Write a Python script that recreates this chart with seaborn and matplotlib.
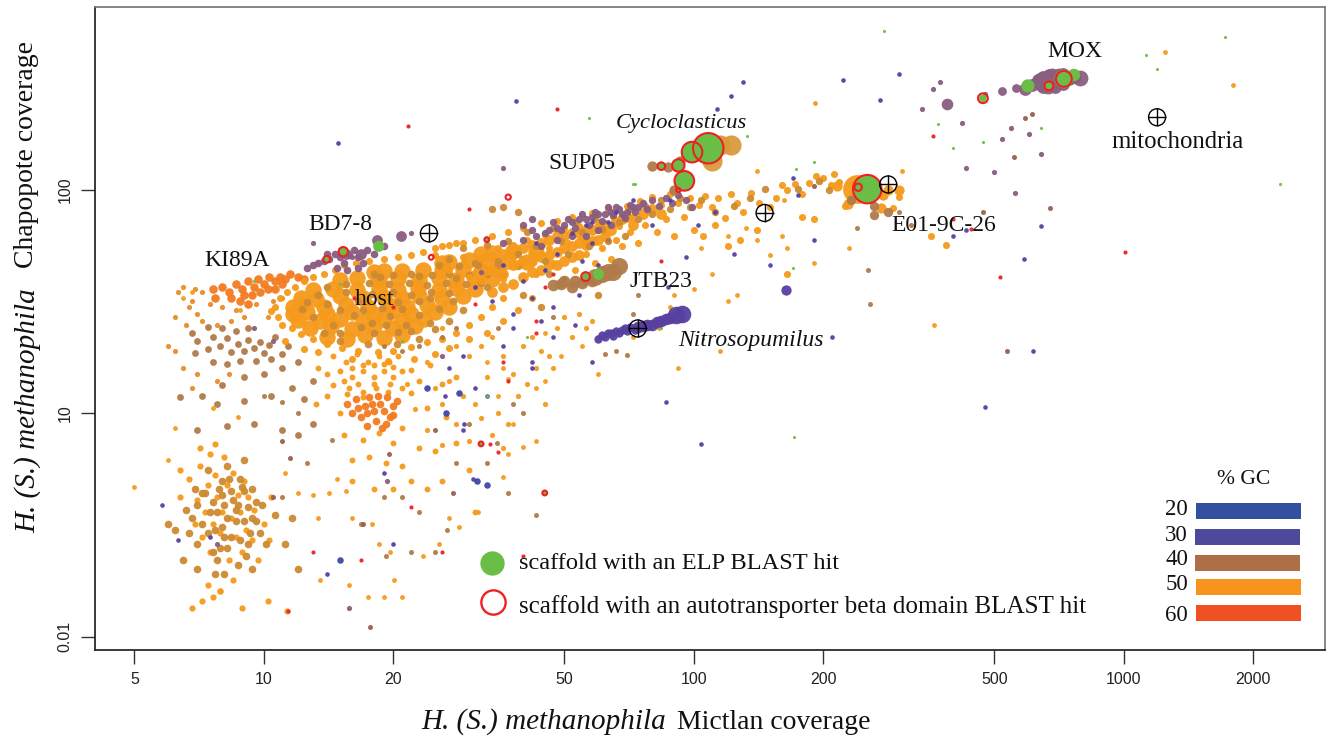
import pandas as pd
import matplotlib
matplotlib.use("Agg")
import matplotlib.pyplot as plt
from matplotlib.patches import Rectangle
import seaborn as sns

# coverage pairs (Mictlan, Chapopote), by region
host_orange = [(14,22),(15.6,21.5),(17.2,22.4),(19,21.8),(21,22.5),(12.8,24),(14.3,24.6),(16,23.8),(18,24.5),(20,24),(22.5,24.6),
    (12,26.2),(13.5,25.8),(15,26.5),(17,26),(19,26.6),(21,26),(23.6,26.4),(11.7,28),(12.6,28.4),(14,27.8),(16,28.5),(18,28),(20,28.6),(22,28),(25,28.4),
    (11.7,30),(12.3,30.5),(13.8,30),(15.5,30.6),(17.5,30),(19.5,30.6),(21.5,30),(24,30.5),(27,30),
    (12.2,33),(13.2,32.6),(15,33.4),(17,32.8),(19,33.3),(21,32.7),(23,33.4),(26,33),(29,33.4),
    (13,35.6),(14.5,36.2),(16.5,35.8),(18.5,36.4),(20.5,35.7),(22.8,36.3),(25.5,35.8),(28,36.4),(31,36),
    (15,39.5),(16.5,40.2),(18.5,39.6),(20.5,40.3),(23,39.7),(25.5,40.3),(28,39.6),(31,40.3),(34,39.8),
    (18,43),(19,43.6),(21,43.2),(23.5,44),(26,43.7),(29,44.4),(32,43.6),(35,44.2),(26,47),(27,47.5),(30,48.4),(33,47.6),(37,48.2),(41,47.6),(32,52),(34,52.4),(38,53.2),(43,52.6)]
host_tan = [(13,27),(14.5,25),(16.2,27.5),(17.8,25.5),(19.6,27.3),(21.4,25),(23,27.5),(15,23),(18,22.8),(20.5,23.2),(12.3,29.3),(14,31),(16.6,31.8),(18.8,29.6),(20.5,31.5),(23,31.7),(25.5,29.4),
    (13.4,34),(15.5,34.8),(17.8,34.2),(20,34.9),(22,34),(24.5,35),(27,34.5),(15.5,38),(17.6,38.4),(19.5,37.8),(21.8,38.4),(24,37.6),(26.5,38.3),(29.5,38),(32,38.4),
    (18,42),(20,41.8),(22,42.3),(24.6,41.7),(27,42.2),(30,41.6),(33,42.3),(36,41.8),(25.5,46),(28.5,45.8),(31.5,46),(35,46.2),(39,45.6),(15,21),(17.5,20.5),(20.4,20.4),(23,21.6),(25,23.8),(27,26),(29,29),
    (13.8,23),(16.8,24.4),(19.2,25),(22,23.4),(24.4,25.4),(12.6,31.6),(15,29),(17,29),(21,29.4),(24.4,33),(27.6,32),(14,37),(18.6,40.8),(23,41.2),(28,40.4)]
host_fringe = [(10.8,27),(10.6,30),(10.9,33),(11.3,35),(11.8,37),(12.4,39),(13,41),(13.8,42),(14.6,44),(15.4,46),(16.4,47),(17.6,48),(19,49),(20.5,50),(22,51),(23.5,53),(25,55),(27,57),(29,58),
    (11,25),(11.6,24),(12.2,22.6),(13,21.5),(14,20.4),(15.2,19.6),(16.6,19),(18.4,18.8),(20,19),(22,19.8),(24,20.8),(26,21.5),(28,23),(30,25),(32,27),(34,30),(36,33),
    (10.4,28.6),(11.2,21),(12.4,19.5),(13.4,18.8),(16,17.6),(19.4,17.2),(22.4,17.6),(25,18.4),(27,19.6),(30,21.5),(33,23),(36,26),(39,29),(42,33)]
band_fill = [(34,35),(36,37),(38,38),(40,41),(42,43),(44,44),(46,46),(48,46),(50,48),(52,50),(54,51),(56,57),(58,59),(60,60),(62,62),(34,50),(36,52),(38,54),(40,55),(42,57),(44,58),(46,60),(48,62),(50,62),(52,64),(54,64),(56,66),(58,66),(60,68),(62,70),(64,66),(66,72),(68,74),(70,76),(72,70),(76,78),(80,82),(84,78),
    (32,40),(34,44),(36,42),(38,46),(40,48),(42,48),(44,50),(46,51),(48,53),(50,55),(52,56),(54,58),(56,59)]
band_orange = [(25,51),(26,56),(27,44),(28,58),(29,50),(30,41),(31,60),(32,50),(33,43),(34,62),(35,55),(36,40),(37,65),(38,57),(39,47),(40,68),(41,60),(42,52),(43,42),(44,71),(45,63),(46,55),(47,47),(48,73),(49,38),
    (50,67),(51,58),(52,76),(53,44),(54,69),(55,61),(56,52),(57,40),(58,79),(59,47),(60,72),(61,55),(62,65),(63,83),(64,49),(65,76),(66,60),(67,69),(68,56),(70,85),(71,65),(72,76),(74,58),(75,89),(77,70),(78,81),(80,93),(82,65),(84,86),(86,74),(88,96),(90,62),(92,88),(95,76),(98,92),(100,66),
    (103,86),(106,94),(110,84),(114,92),(118,75),(122,96),(126,88),(130,80),(136,97),(142,88),(150,84),(155,92),(160,105),(165,100),(172,106),(178,96),(185,108),(192,116),(200,113),(208,105),(212,118),(218,109),
    (105,62),(112,70),(120,56),(128,60),(140,66),(165,42),(178,76),(190,74),(224,85),(232,92),(290,83),(300,93),(355,62),(385,57)]
band_tan = [(27,49),(29,55),(31,47),(33,57),(35,48),(37,59),(39,52),(41,65),(43,56),(45,48),(47,68),(49,59),(51,52),(53,72),(55,65),(57,56),(59,75),(61,67),(63,59),(65,79),(67,72),(69,62),(71,82),(74,74),(77,85),(80,78),(84,90),(88,82),(93,92),(98,84),(104,90),(112,80),(124,85),(135,92),(146,101),(175,101),(195,110),(206,100),
    (39,80),(36,84),(34,82),(46,42),(52,38),(60,34),(33,37),(40,34),(44,30)]
band_purple = [(45,64),(47,72),(49,66),(51,74),(53,68),(55,78),(57,70),(59,80),(61,73),(63,84),(65,77),(67,82),(69,75),(71,86),(73,80),(76,88),(78,82),(80,90),(83,85),(86,92),(89,88),(92,95),(96,90),(99,84),(44,56),(48,60),(52,62),(56,62),(60,66),(64,70),(36,58),(40,60),(42,66),
    (48,68),(50,70),(52,72),(54,74),(56,74),(58,76),(60,78),(62,78),(64,80),(66,84),(68,78),(70,80),(72,84),(74,84),(40,70),(43,62),(46,66),(42,74)]
band_indigo = [(31,37),(34,32),(36,46),(38,28),(40,39),(42,33),(43,58),(44,26),(45,44),(47,30),(48,52),(50,40),(52,64),(54,34),(55,48),(56,70),(58,58),(60,46),(63,72),(66,80),(72,90),(80,70),(88,90),(102,70),(112,80),(29,18),(31,13),(33,12),(36,20),(38,24),(27,16),(42,16),(47,22),(53,25),(58,17)]
fan_orange = [(26,24),(28,20),(30,18),(32,20),(34,22),(36,18),(38,15),(40,20),(42,22),(44,19),(46,18),(48,24),(50,27),(52,22),(54,28),(56,24),(58,26),(60,22),(27,14),(29,12),(31,11),(33,14.5),(35,10),(37,9),(39,12),(41,13.5),(43,16),(45,11),(47,16),(24,17),(25,13),(26,11),(28,9),(30,7.5),(32,9.5),(34,8),(36,7),(22.5,10.5),(21.5,13.5),(24,8.4),(26,7.2)]
ki89a = [(7.6,36),(8,37),(8.3,35),(8.6,38),(8.9,36),(9.2,39),(9.5,37),(9.7,40),(10,38),(10.3,41),(10.6,39),(10.9,41),(11.2,40),(11.5,42),(12,41),(12.4,40),(9,34),(9.4,34),(9.8,35),(10.2,36),(10.6,36),(11,38),(8.4,33),(8.8,32),(9.2,31),(7.7,33)]
ki89a_fringe = [(7.2,35),(6.9,36),(6.5,37),(6.3,35),(6.8,32),(6.7,30),(7,28),(7.5,31),(8,30),(8.6,29),(9.6,31),(10.5,32),(11,33),(6.2,27),(6.6,25),(7.2,26),(7.8,25),(8.4,26),(9,27),(10.2,27),(6,20),(6.2,19),(6.5,16),(7,15),(7.8,14),(8.3,15),(6.8,13)]
tan_left = [(7,21),(7.4,19.5),(7.6,22),(7.9,20),(8.2,21.8),(8.4,18.8),(8.7,20.4),(9,19),(9.2,21.4),(9.5,19.6),(9.8,20.8),(10,18.6),(10.3,20.2),(10.6,22),(8,24),(8.6,23.4),(9.2,24),(7.4,24.4),(6.8,23),(6.9,18.6),(7.6,17),(8.2,16.6),(8.8,17.2),(9.6,17.2),(10.4,17.6),(11,18.4),(11.4,20),(11,16),(10,15),(9,14.6),(8,13.4),(7.2,12),(6.4,11.8),(7.8,11),(9,11.4),(10.4,12),(11.6,13),(12.4,11.6),(13,14),(12,17),(13,9),(12,8),(11,8.4),(9.5,9),(8.2,8.8),(7,8.4)]
column_orange = [(14.5,18),(15.5,17),(16.5,18.5),(17.5,17),(18.5,18),(19.5,17),(20.5,18),(15,15.5),(16,14.5),(17,15.5),(18,14.5),(19,15.5),(20,14.5),(21,15.5),(15.8,13),(17,12.5),(18.2,13),(19.4,12.5),(14,12),(13.2,11),(15,10),(22,12.4),(23,14),(24.4,16.4),(26,13.6),(28,14.6),(24,10.6),(26.5,9.6),(15.4,8),(17,7.6),(18.5,8.2),(20,7.4),(21,8.6),(16,6.2),(17.6,6.4),(19.2,6),(21,5.8),(23,7),(25,6.8),(16,5),(18,4.6),(20,4.6),(22,5),(24,4.6),(26,5),(28,7.4),(30,5.6),(31,3.6),
    (16,16),(17,16.5),(18,16.4),(19,16.6),(20,16.2),(15.4,14),(16.6,13.6),(18,13.6),(19.6,13.6),(21,13),(15.6,12.2),(17,11.8),(14.5,13.4),(14,15),(13.4,16),(22,15.6)]
column_red = [(15.6,11),(16,10),(16.4,11.6),(16.8,9.6),(17.2,10.8),(17.6,11.8),(18,10.2),(18.2,9.2),(18.6,11),(19,10.2),(19.3,11.8),(19.6,9.6),(20,10.8),(20.4,11.4),(17.4,8.8),(18.8,8.6),(16.6,10.6),(17.4,10),(17.8,11),(18.4,12),(19.2,9),(20,9.8)]
bottom_orange = [(6.4,4.2),(6.7,5.1),(6.9,3.2),(7,4.1),(7.1,5.8),(7.2,2.8),(7.3,3.6),(7.4,4.8),(7.5,2.4),(7.6,3.2),(7.7,5.3),(7.8,4.2),(7.9,2.9),(8,3.6),(8.1,6.4),(8.2,4.8),(8.3,2.2),(8.4,3.4),(8.5,5.4),(8.6,2.8),(8.7,4.3),(8.8,3.6),(8.9,2.4),(9,5),(9.1,3),(9.2,4.2),(9.4,2.7),(9.5,3.7),(9.7,2.2),(10,3.2),(10.3,2.7),(10.4,4.2),(7.4,1.7),(7.9,1.6),(8.5,1.8),(6.8,1.35),(7.2,1.45),(7.6,1.5),(7.9,1.6),(8.9,1.35),(10.2,1.45),(11.3,1.3),(7.1,7),(7.7,7.3),(7.5,6.6),(6.4,5.6)]
bottom_gold = [(6.6,3.7),(6.9,4.6),(7.2,3.2),(7.3,4.4),(7.5,3.6),(7.6,4),(7.7,3),(7.8,3.6),(7.85,4.6),(7.9,2.5),(8,3.1),(8,4.3),(8.1,2.8),(8.1,3.9),(8.2,3.4),(8.3,5.1),(8.4,2.8),(8.5,4.1),(8.6,3.3),(8.7,3.9),(8.8,2.7),(8.9,4.7),(9,3.3),(9.1,2.3),(9.2,3.8),(9.3,2.9),(9.4,4.6),(9.6,3.3),(9.9,3.9),(10.1,2.6),(7,2.6),(6.5,2.2),(6.2,3),(6,3.2),(7.4,5.6),(8.2,5.8),(9,6.2),
    (6.8,3.4),(7,3.9),(7.2,4.4),(7.4,2.9),(7.6,2.4),(7.8,2.2),(8,5),(8.2,2.5),(8.4,4.5),(8.6,3.7),(8.8,5.1),(9,4.5),(9.2,2.6),(9.4,3.4),(9.6,4),(9.8,2.9),(8.1,1.9),(8.7,2.1),(7.7,1.9),(9.4,2),(6.7,2.9),(7,2),(10.6,3.5),(11.2,2.6),(11.6,3.4),(12,2)]
scatter_orange = [(5,4.7),(6,6.2),(6.2,8.6),(7.6,10.6),(8.7,9.6),(11.2,5.4),(12,4.4),(13,4.3),(14.2,4.4),(14.8,5.1),(15.5,4.5),(13.4,3.4),(16,3.4),(17.8,3.2),(18.5,2.6),(19.7,2.4),(15.8,1.7),(17.5,1.5),(19,1.5),(13.5,1.8),(20.1,1.8),(21,1.5),(23.4,2.3),(25.6,2.6),(27,3.4),(28.4,3.1),(31.5,3.6),(36,5.2),(37,6.6),(38,9),(40,7.1),(43,13),(45,14),(49,18),(55,20),(43,7.5),(35,12),(37,14.2),(33,17),(36,16),(45,23),(60,15),(72,22),(83,24),(88,30),(92,16),(115,19),(120,32),(126,34),(140,60),(160,62),(190,47),(230,55),(100,36),(110,42)]
scatter_tan = [(10,12),(11,11.3),(12,10),(14.4,7.6),(12.6,6),(11,4.2),(16.8,3.2),(19,4.2),(21,4.2),(23,3.6),(25,2.4),(19.2,2.3),(22,2.4),(26.6,3),(28,6),(33,6),(34.8,7.4),(38,11),(40,10),(47,27),(35,24),(30,9),(37,4.4),(43,3.5),(62,18.5),(66,19),(74,34),(254,44),(257,31),(240,68),(300,80),(320,70),(19,20),(21,19),(23,20),(26,22),(28,24),(63,60),(72,28),(70,18.3)]
scatter_indigo = [(38.5,251),(14.9,162),(130,305),(113,230),(122,263),(86,11.3),(104,7.3),(209,22),(475,10.7),(614,19),(585,49),(96,50),(124,52),(87,37),(150,46),(175,95),(170,113),(190,60),(222,311),(271,253),(300,330),(400,62),(430,66),(640,69),(26.4,12),(29.2,9),(30.6,5.1),(29,8.4),(14,1.9),(19,5.4),(20,2.6),(5.8,3.9),(6.3,2.7),(7.5,2.8),(58,72),(42,17)]
scatter_blue = [(24,13),(26.5,10),(31.3,5),(33,4.8),(15,2.2),(28.5,12.4)]
scatter_purple = [(373,305),(340,230),(558,97),(420,200),(475,270),(520,170),(545,190),(600,178),(640,145),(360,285),(500,120),(430,125),(36,125),(13,58),(32,43),(26,18),(16,50),(22,64),(10.5,21),(9.5,24),(15.8,1.35),(19.3,5),(7.8,2.6)]
scatter_brown = [(535,19),(17.7,1.1),(590,210),(555,140),(673,83),(610,220),(470,80),(190,104),(11.5,6.3),(19.5,6.6),(10.5,4.2),(17,3.2),(11,7.5),(25,8.4),(27.6,4.4)]
scatter_red = [(21.6,194),(30,82),(48,230),(515,41),(400,74),(360,175),(1005,53),(33.5,7.3),(26,2.4),(40,2.3),(16.2,33),(20,30),(31,31),(43,23),(45,37),(11.4,1.3),(13,2.4),(16.8,2.2),(22,3.8),(37,14),(43,26),(84,48),(35,6.7),(47,42),(36,17),(58,40),(440,67)]
scatter_green = [(277,516),(1717,485),(1125,403),(1194,349),(2305,106),(171,7.8),(170,45),(640,190),(370,197),(400,155),(470,165),(190,133),(173,124),(57,210),(84,24),(9.5,39),(15,38),(21,21),(41,22),(33,12),(72,107),(133,175),(73,107),(105,21.5)]
scatter_hot = [(1245,416),(1793,296),(191,245),(361,25),(305,122),(162,90),(140,122),(6.8,35),(6.5,33),(8.8,29),(13.4,47),(150,51),(120,62),(165,55),(132,68),(90,34),(104,55)]

jtb23_small = [(47,37.5),(49,38),(50,39),(52,37),(53,39),(55,38.5),(56,40),(58,39)]
jtb23_large = [(59,41),(61,42),(63,43),(65,43),(67,45.5)]
nitro_small = [(60,21.5),(61,22.5),(62,22),(63,22.8),(64,23),(65,22.3),(66,23.4),(67,22.9),(68,23.6),(69,24),(70,23.5),(71,24.4),(72,24.1),(73,23.6)]
nitro_mid = [(74,24.3),(76,24.6),(78,25),(80,24.8),(82,25.6),(84,25.8),(86,26.4),(88,26.8)]
nitro_large = [(91,27.5),(94,27.8)]
bd78 = [(12.6,45),(13,46),(13.4,47),(13.8,48),(14.2,49),(14.6,52),(15,50),(15.4,47),(15.8,51),(16.2,54),(16.6,50),(17,47),(14,52),(14.8,45),(15.6,44),(16.6,45),(18,52),(19,56),(17.4,54)]
bd78_large = [(15.5,52),(18.3,60),(20.8,62),(16.8,52)]
mox_small = [(520,278),(560,288),(610,300)]
mox = [(630,310),(650,320),(670,328),(690,322),(660,305),(700,306),(720,298),(690,290),(640,295),(745,315),(770,320),(650,290),(610,296),(590,285),(680,298),(720,330)]
mox_large = [(790,318),(640,312),(680,325),(705,325),(665,292),(660,310),(700,312)]
cyclo_tan = [(115,159),(122,160),(110,135)]
cyclo_side = [(87,127),(93,135),(80,128),(90,100)]
big_orange = [(240,101)]
e01_side = [(283,100),(300,100),(275,95),(215,104),(228,87),(272,83)]
e01_tan = [(262,85),(283,80),(232,90),(262,77)]
landmark_purple = [(387,243)]
landmark_indigo = [(164,35.6)]

# scaffolds with a green ELP hit and/or a red autotransporter ring
elp_x = [108, 99, 92, 95, 84, 253, 725, 765, 598, 669, 470, 15.3, 14, 18.5, 56, 60, 45, 32, 33]
elp_y = [154, 148, 129, 110, 128, 101, 315, 328, 293, 293, 258, 53, 49, 56, 41, 42, 4.4, 7.3, 60]
elp_s = [470, 210, 75, 190, 22, 400, 180, 80, 90, 40, 30, 45, 22, 65, 40, 65, 9, 9, 8]
ring_x = [108, 99, 92, 95, 84, 253, 241, 725, 669, 470, 15.3, 14, 56, 45, 32, 24.5, 92, 33, 37]
ring_y = [154, 148, 129, 110, 128, 101, 103, 315, 293, 258, 53, 49, 41, 4.4, 7.3, 50, 100, 60, 93]
ring_s = [480, 220, 80, 200, 30, 420, 28, 130, 40, 50, 45, 24, 40, 12, 12, 12, 10, 12, 14]
marker_x = [24.2, 146, 283, 74, 1194]
marker_y = [64, 79, 106, 24, 212]

x_ticks = [5, 10, 20, 50, 100, 200, 500, 1000, 2000]
y_ticks = [1, 10, 100]
y_tick_labels = ["0.01", "10", "100"]
gc_labels = ["20", "30", "40", "50", "60"]
gc_colors = ["#3350A0", "#4D4A9C", "#AD6F45", "#F7941E", "#F15025"]

ORANGE = "#F59A1B"
GOLD = "#CC8A32"
TAN = "#B07A4A"
PURPLE = "#8A5C80"
INDIGO = "#5740A0"
BLUE = "#3D47A5"
HOT = "#F47A20"
RED = "#EE2024"
GREEN = "#6ABD45"

W, H = 1327, 736
sns.set_theme(style="white")
plt.rcParams["font.family"] = ["Liberation Serif", "DejaVu Serif"]
fig = plt.figure(figsize=(W / 100, H / 100), dpi=100)
ax = fig.add_axes([95 / W, 1 - 650 / H, 1230 / W, 643 / H])

groups = [
    (bottom_orange, ORANGE, 20), (bottom_gold, GOLD, 30),
    (tan_left, TAN, 24), (ki89a_fringe, "#E58E2A", 14),
    (ki89a, HOT, 38), (column_orange, ORANGE, 18), (column_red, HOT, 30),
    (fan_orange, ORANGE, 14),
    (host_fringe, ORANGE, 26), (host_orange, ORANGE, 140), (host_tan, GOLD, 30),
    (band_fill, ORANGE, 60), (band_orange, ORANGE, 26), (band_tan, GOLD, 28), (band_purple, PURPLE, 28),
    (band_indigo, INDIGO, 11),
    (scatter_orange, ORANGE, 12), (scatter_tan, TAN, 13), (scatter_indigo, INDIGO, 11),
    (scatter_blue, BLUE, 22), (scatter_purple, PURPLE, 14), (scatter_brown, "#99604F", 13),
    (scatter_red, RED, 9), (scatter_green, GREEN, 5), (scatter_hot, ORANGE, 12),
    (jtb23_small, TAN, 70), (jtb23_large, TAN, 150),
    (nitro_small, INDIGO, 36), (nitro_mid, INDIGO, 70), (nitro_large, INDIGO, 160),
    (bd78, PURPLE, 30), (bd78_large, PURPLE, 60),
    (mox_small, PURPLE, 40), (mox, PURPLE, 85), (mox_large, "#8A5F7D", 130),
    (cyclo_tan, "#D99A3C", 210), (cyclo_side, TAN, 55),
    (big_orange, ORANGE, 430), (e01_side, ORANGE, 55), (e01_tan, TAN, 45),
    (landmark_purple, PURPLE, 70), (landmark_indigo, INDIGO, 55),
]
for pairs, color, size in groups:
    df = pd.DataFrame(pairs, columns=["mictlan", "chapopote"])
    sns.scatterplot(data=df, x="mictlan", y="chapopote", color=color, s=size, linewidth=0, alpha=0.95, ax=ax, zorder=2)

sns.scatterplot(x=elp_x, y=elp_y, color=GREEN, s=elp_s, linewidth=0, ax=ax, zorder=4)
ax.scatter(ring_x, ring_y, s=ring_s, facecolors="none", edgecolors=RED, linewidths=1.5, zorder=5)
ax.scatter(marker_x, marker_y, s=150, facecolors="none", edgecolors="black", linewidths=1, zorder=6)
ax.scatter(marker_x, marker_y, s=150, marker="+", color="black", linewidths=1, zorder=6)

ax.set_xscale("log")
ax.set_yscale("log")
ax.set_xlim(4.05, 2934)
ax.set_ylim(0.871, 661)
ax.set_xticks(x_ticks)
ax.set_xticklabels([str(t) for t in x_ticks], family="Liberation Sans", fontsize=11.5, color="#222222")
ax.set_yticks(y_ticks)
ax.set_yticklabels(y_tick_labels, family="Liberation Sans", fontsize=11.5, color="#222222", rotation=90, va="center")
ax.minorticks_off()
ax.tick_params(axis="both", which="major", bottom=True, left=True, length=10, width=1, color="#333333", pad=6)
ax.set_xlabel("")
ax.set_ylabel("")
for side in ["left", "bottom"]:
    ax.spines[side].set_color("#222222")
for side in ["top", "right"]:
    ax.spines[side].set_color("#777777")


def label(px, py, txt, size=17, style="normal", ha="left"):
    fig.text(px / W, 1 - py / H, txt, fontsize=size, style=style, ha=ha, va="baseline", color="#111111")


label(204, 266, "KI89A")
label(308, 230, "BD7-8")
label(355, 305, "host")
label(548, 169, "SUP05")
label(616, 128, "Cycloclasticus", size=16.2, style="italic")
label(629, 287, "JTB23")
label(678, 346, "Nitrosopumilus", style="italic")
label(891, 231, "E01-9C-26")
label(1047, 57, "MOX")
label(1111, 148, "mitochondria", size=17.8)
label(1217, 484, "% GC", size=15.6)

fig.text(421 / W, 1 - 729 / H, "H. (S.) methanophila", fontsize=21, style="italic", color="#111111")
fig.text(677 / W, 1 - 729 / H, "Mictlan coverage", fontsize=20, color="#111111")
fig.text(14 / W, 1 - 533 / H, "H. (S.) methanophila", fontsize=21, style="italic", rotation=90, va="bottom", color="#111111")
fig.text(14 / W, 1 - 268 / H, "Chapopote coverage", fontsize=20, rotation=90, va="bottom", color="#111111")

# legends
fig.add_artist(plt.Line2D([492 / W], [1 - 563 / H], marker="o", markersize=17.5, color=GREEN, markeredgewidth=0, transform=fig.transFigure))
fig.add_artist(plt.Line2D([493 / W], [1 - 602 / H], marker="o", markersize=17.5, markerfacecolor="none", markeredgecolor=RED, markeredgewidth=1.7, transform=fig.transFigure))
label(519, 569, "scaffold with an ELP BLAST hit", size=17.6)
label(519, 613, "scaffold with an autotransporter beta domain BLAST hit", size=18.1)

bar_tops = [503, 529, 555, 579, 605]
bar_lefts = [1196, 1195, 1195, 1196, 1196]
text_base = [515, 541, 565, 590, 621]
for top, left, base, c, t in zip(bar_tops, bar_lefts, text_base, gc_colors, gc_labels):
    fig.add_artist(Rectangle((left / W, 1 - (top + 16) / H), 105 / W, 16 / H, color=c, transform=fig.transFigure, linewidth=0))
    label(1188, base, t, size=16.5, ha="right")

fig.savefig("out.png", dpi=100)
